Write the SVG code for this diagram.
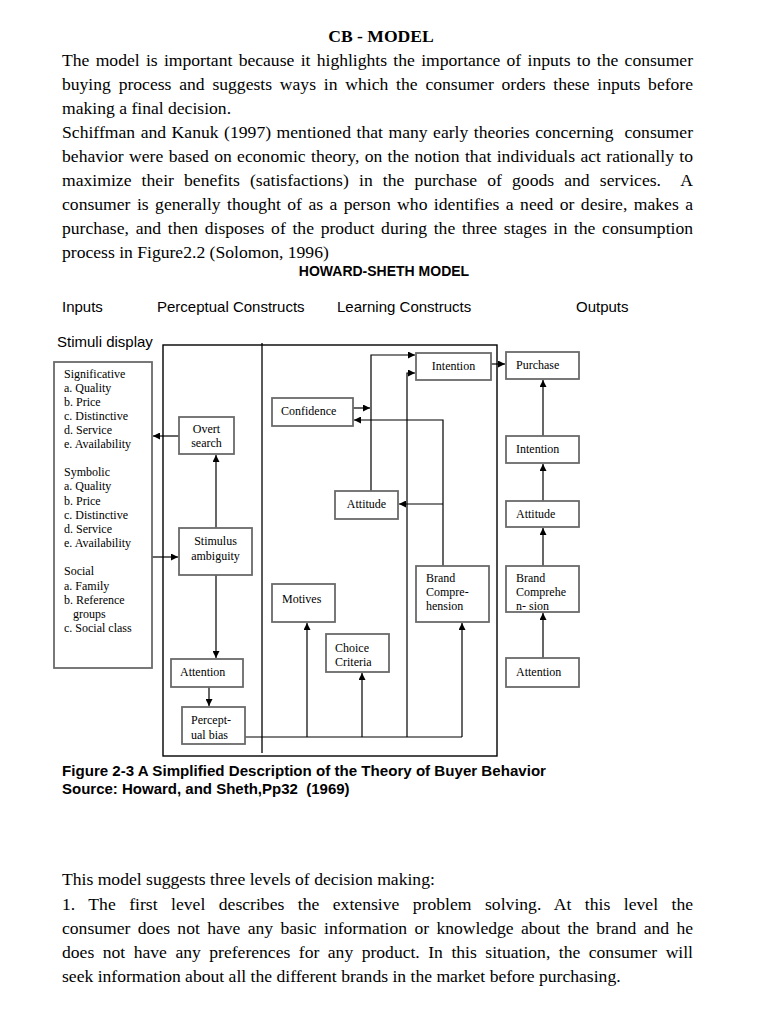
<svg xmlns="http://www.w3.org/2000/svg" width="768" height="1024" viewBox="0 0 768 1024">
<style>
.body{font-family:"Liberation Serif","Times New Roman",serif;font-size:17.6px;fill:#000}
.bold{font-weight:bold}
.sans{font-family:"Liberation Sans",Arial,sans-serif;fill:#000}
.box{fill:#fff;stroke:#6a6a6a;stroke-width:1.8}
.bt{font-family:"Liberation Serif","Times New Roman",serif;font-size:12px;fill:#000}
.ln{fill:none;stroke:#000;stroke-width:1.2}
.arr{fill:none;stroke:#000;stroke-width:1.2;marker-end:url(#ah)}
</style>
<defs>
<marker id="ah" viewBox="0 0 10 10" refX="10" refY="5" markerWidth="8" markerHeight="7" markerUnits="userSpaceOnUse" orient="auto">
<path d="M0,0 L10,5 L0,10 z" fill="#000"/>
</marker>
<clipPath id="clipBC"><rect x="506" y="566" width="73" height="45"/></clipPath>
</defs>
<rect width="768" height="1024" fill="#fff"/>

<g id="text-top">
<text class="body bold" x="381" y="42" text-anchor="middle" font-size="17">CB - MODEL</text>
<text class="body" x="62" y="66" word-spacing="1.9" textLength="631" lengthAdjust="spacing">The model is important because it highlights the importance of inputs to the consumer</text>
<text class="body" x="62" y="90" word-spacing="3.4" textLength="631" lengthAdjust="spacing">buying process and suggests ways in which the consumer orders these inputs before</text>
<text class="body" x="62" y="114">making a final decision.</text>
<text class="body" x="62" y="138" word-spacing="1.1" textLength="631" lengthAdjust="spacing" xml:space="preserve">Schiffman and Kanuk (1997) mentioned that many early theories concerning  consumer</text>
<text class="body" x="62" y="162" word-spacing="0.9" textLength="631" lengthAdjust="spacing">behavior were based on economic theory, on the notion that individuals act rationally to</text>
<text class="body" x="62" y="186" word-spacing="5.7" textLength="631" lengthAdjust="spacing" xml:space="preserve">maximize their benefits (satisfactions) in the purchase of goods and services.  A</text>
<text class="body" x="62" y="210" word-spacing="2" textLength="631" lengthAdjust="spacing">consumer is generally thought of as a person who identifies a need or desire, makes a</text>
<text class="body" x="62" y="234" word-spacing="2.3" textLength="631" lengthAdjust="spacing">purchase, and then disposes of the product during the three stages in the consumption</text>
<text class="body" x="62" y="258">process in Figure2.2 (Solomon, 1996)</text>
</g>

<g id="headings">
<text class="sans" x="384" y="276" font-size="14" font-weight="bold" text-anchor="middle">HOWARD-SHETH MODEL</text>
<text class="sans" x="62" y="312" font-size="15">Inputs</text>
<text class="sans" x="157" y="312" font-size="15">Perceptual Constructs</text>
<text class="sans" x="337" y="312" font-size="15">Learning Constructs</text>
<text class="sans" x="576" y="312" font-size="15">Outputs</text>
<text class="sans" x="57" y="347" font-size="15">Stimuli display</text>
</g>

<g id="frame">
<rect x="163" y="345" width="334" height="411" fill="none" stroke="#000" stroke-width="1.4"/>
<line x1="262" y1="343" x2="262" y2="753" stroke="#000" stroke-width="1.3"/>
</g>

<g id="connectors">
<line class="arr" x1="179" y1="436" x2="153" y2="436"/>
<line class="arr" x1="216" y1="528" x2="216" y2="455"/>
<line class="arr" x1="152" y1="557" x2="178" y2="557"/>
<line class="arr" x1="216" y1="575" x2="216" y2="658"/>
<line class="arr" x1="209" y1="687" x2="209" y2="706"/>
<polyline class="ln" points="245,737 462,737"/>
<line class="arr" x1="307" y1="737" x2="307" y2="623"/>
<line class="arr" x1="362" y1="737" x2="362" y2="673"/>
<polyline class="arr" points="407,737 407,373 415,373"/>
<line class="arr" x1="462" y1="737" x2="462" y2="623"/>
<polyline class="arr" points="371,491 371,355 415,355"/>
<line class="arr" x1="353" y1="408" x2="370" y2="408"/>
<polyline class="arr" points="443,566 443,420 354,420"/>
<line class="arr" x1="443" y1="504" x2="399" y2="504"/>
<line class="arr" x1="491" y1="364" x2="505" y2="364"/>
<line class="arr" x1="543" y1="436" x2="543" y2="380"/>
<line class="arr" x1="543" y1="501" x2="543" y2="464"/>
<line class="arr" x1="543" y1="566" x2="543" y2="528"/>
<line class="arr" x1="543" y1="658" x2="543" y2="613"/>
</g>

<g id="stimuli">
<rect class="box" x="54" y="362" width="98" height="306"/>
<text class="bt" x="64" y="378">Significative</text>
<text class="bt" x="64" y="392">a. Quality</text>
<text class="bt" x="64" y="406">b. Price</text>
<text class="bt" x="64" y="420">c. Distinctive</text>
<text class="bt" x="64" y="434">d. Service</text>
<text class="bt" x="64" y="448">e. Availability</text>
<text class="bt" x="64" y="476">Symbolic</text>
<text class="bt" x="64" y="490">a. Quality</text>
<text class="bt" x="64" y="505">b. Price</text>
<text class="bt" x="64" y="519">c. Distinctive</text>
<text class="bt" x="64" y="533">d. Service</text>
<text class="bt" x="64" y="547">e. Availability</text>
<text class="bt" x="64" y="575">Social</text>
<text class="bt" x="64" y="590">a. Family</text>
<text class="bt" x="64" y="604">b. Reference</text>
<text class="bt" x="73" y="618">groups</text>
<text class="bt" x="64" y="632">c. Social class</text>
</g>

<g id="overt-search">
<rect class="box" x="179" y="417" width="55" height="37"/>
<text class="bt" x="206.5" y="433" text-anchor="middle">Overt</text>
<text class="bt" x="206.5" y="447" text-anchor="middle">search</text>
</g>

<g id="stimulus-ambiguity">
<rect class="box" x="179" y="528" width="73" height="47"/>
<text class="bt" x="215.5" y="545" text-anchor="middle">Stimulus</text>
<text class="bt" x="215.5" y="560" text-anchor="middle">ambiguity</text>
</g>

<g id="attention-p">
<rect class="box" x="171" y="659" width="72" height="28"/>
<text class="bt" x="180" y="676">Attention</text>
</g>

<g id="perceptual-bias">
<rect class="box" x="182" y="707" width="63" height="37"/>
<text class="bt" x="191" y="724">Percept-</text>
<text class="bt" x="191" y="739">ual bias</text>
</g>

<g id="intention-l">
<rect class="box" x="416" y="353" width="75" height="27"/>
<text class="bt" x="453.5" y="370" text-anchor="middle">Intention</text>
</g>

<g id="confidence">
<rect class="box" x="272" y="398" width="81" height="28"/>
<text class="bt" x="281" y="415">Confidence</text>
</g>

<g id="attitude-l">
<rect class="box" x="335" y="491" width="63" height="28"/>
<text class="bt" x="366.5" y="508" text-anchor="middle">Attitude</text>
</g>

<g id="brand-comprehension-l">
<rect class="box" x="416" y="566" width="73" height="56"/>
<text class="bt" x="426" y="582">Brand</text>
<text class="bt" x="426" y="596">Compre-</text>
<text class="bt" x="426" y="610">hension</text>
</g>

<g id="motives">
<rect class="box" x="272" y="584" width="63" height="38"/>
<text class="bt" x="282" y="603">Motives</text>
</g>

<g id="choice-criteria">
<rect class="box" x="326" y="634" width="63" height="38"/>
<text class="bt" x="335" y="652">Choice</text>
<text class="bt" x="335" y="666">Criteria</text>
</g>

<g id="purchase">
<rect class="box" x="506" y="352" width="73" height="27"/>
<text class="bt" x="516" y="369">Purchase</text>
</g>

<g id="intention-o">
<rect class="box" x="506" y="436" width="73" height="27"/>
<text class="bt" x="516" y="453">Intention</text>
</g>

<g id="attitude-o">
<rect class="box" x="506" y="501" width="73" height="26"/>
<text class="bt" x="516" y="518">Attitude</text>
</g>

<g id="brand-comprehension-o">
<rect class="box" x="506" y="566" width="73" height="46"/>
<text class="bt" x="516" y="582">Brand</text>
<text class="bt" x="516" y="596">Comprehe</text>
<text class="bt" x="516" y="610" clip-path="url(#clipBC)">n- sion</text>
</g>

<g id="attention-o">
<rect class="box" x="506" y="658" width="73" height="29"/>
<text class="bt" x="516" y="676">Attention</text>
</g>

<g id="caption">
<text class="sans" x="62" y="776" font-size="15" font-weight="bold" textLength="484" lengthAdjust="spacingAndGlyphs">Figure 2-3 A Simplified Description of the Theory of Buyer Behavior</text>
<text class="sans" x="62" y="794" font-size="15" font-weight="bold" xml:space="preserve">Source: Howard, and Sheth,Pp32  (1969)</text>
</g>

<g id="text-bottom">
<text class="body" x="62" y="885">This model suggests three levels of decision making:</text>
<text class="body" x="62" y="910" word-spacing="9" textLength="631" lengthAdjust="spacing">1. The first level describes the extensive problem solving. At this level the</text>
<text class="body" x="62" y="934" word-spacing="2.9" textLength="631" lengthAdjust="spacing">consumer does not have any basic information or knowledge about the brand and he</text>
<text class="body" x="62" y="958" word-spacing="4.1" textLength="631" lengthAdjust="spacing">does not have any preferences for any product. In this situation, the consumer will</text>
<text class="body" x="62" y="982">seek information about all the different brands in the market before purchasing.</text>
</g>
</svg>
